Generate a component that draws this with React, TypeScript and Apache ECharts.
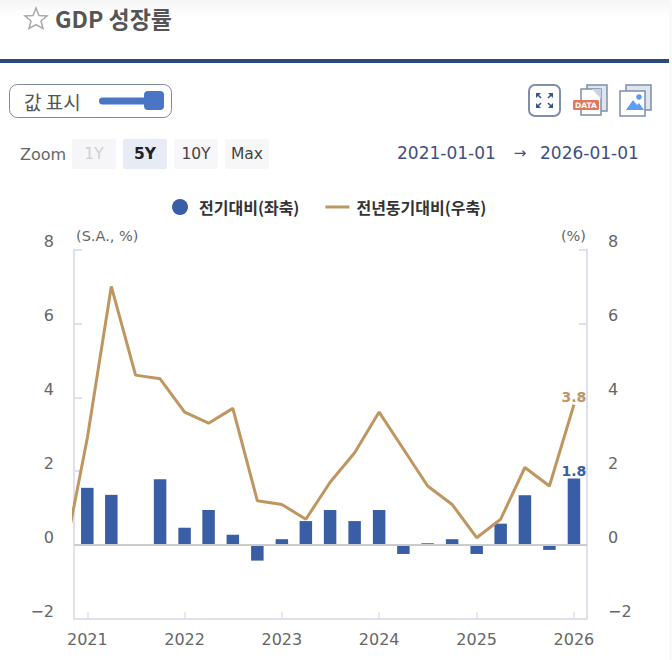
import React, { useEffect, useRef } from 'react'
import * as echarts from 'echarts'

const LATIN = '"DejaVu Sans", "Noto Sans CJK KR", sans-serif'
const KR = '"Noto Sans CJK KR", "DejaVu Sans", sans-serif'

const quarters = [
  '2020-10-01',
  '2021-01-01', '2021-04-01', '2021-07-01', '2021-10-01',
  '2022-01-01', '2022-04-01', '2022-07-01', '2022-10-01',
  '2023-01-01', '2023-04-01', '2023-07-01', '2023-10-01',
  '2024-01-01', '2024-04-01', '2024-07-01', '2024-10-01',
  '2025-01-01', '2025-04-01', '2025-07-01', '2025-10-01',
  '2026-01-01',
]
const qoqValues = [null, 1.55, 1.36, 0, 1.78, 0.47, 0.95, 0.28, -0.42, 0.16, 0.65, 0.95, 0.65, 0.95, -0.24, 0.05, 0.16, -0.24, 0.58, 1.35, -0.13, 1.8]
const yoyValues = [-0.5, 2.9, 7.0, 4.6, 4.5, 3.6, 3.3, 3.7, 1.2, 1.1, 0.7, 1.7, 2.5, 3.6, 2.6, 1.6, 1.1, 0.2, 0.7, 2.1, 1.6, 3.8]
const yearTicks = ['2021-01-01', '2022-01-01', '2023-01-01', '2024-01-01', '2025-01-01', '2026-01-01']
const zoomButtons = [
  { label: '1Y', x: 72, fill: '#f6f6f8', color: '#cfcfcf', weight: 'normal' },
  { label: '5Y', x: 123, fill: '#e7ebf5', color: '#222222', weight: 'bold' },
  { label: '10Y', x: 174, fill: '#f7f7f9', color: '#444444', weight: 'normal' },
  { label: 'Max', x: 225, fill: '#f7f7f9', color: '#444444', weight: 'normal' },
]

const ts = (s: string) => new Date(s + 'T00:00:00').getTime()
const DAY = 86400000
const lastIdx = quarters.length - 1

function headerGraphics(): any[] {
  const frame = '#7d8fa9'
  const navy = '#34568f'
  const els: any[] = [
    { type: 'rect', shape: { x: 0, y: 0, width: 672, height: 16 }, style: { fill: new echarts.graphic.LinearGradient(0, 0, 0, 1, [{ offset: 0, color: '#f4f4f4' }, { offset: 1, color: '#ffffff' }]) } },
    { type: 'rect', shape: { x: 669, y: 0, width: 3, height: 660 }, style: { fill: '#f8f9fb' } },
    { type: 'polygon', shape: { points: [[36, 8], [39, 15.5], [47, 16], [41, 21], [43, 28.5], [36, 24.5], [29, 28.5], [31, 21], [25, 16], [33, 15.5]] }, style: { fill: '#fff', stroke: '#a9a9a9', lineWidth: 1.5 } },
    { type: 'text', style: { x: 55, y: 18, text: 'GDP 성장률', font: `bold 23px ${KR}`, fill: '#555555', verticalAlign: 'middle' } },
    { type: 'rect', shape: { x: 0, y: 59, width: 669, height: 4 }, style: { fill: '#2c4a7c' } },
    // value toggle
    { type: 'rect', shape: { x: 9.5, y: 84.5, width: 162, height: 33, r: 8 }, style: { fill: '#fff', stroke: '#7c8aa0', lineWidth: 1 } },
    { type: 'text', style: { x: 24, y: 101, text: '값 표시', font: `19px ${KR}`, fill: '#555555', verticalAlign: 'middle' } },
    { type: 'rect', shape: { x: 99, y: 97.5, width: 50, height: 7, r: 3.5 }, style: { fill: '#4a74c4' } },
    { type: 'rect', shape: { x: 144, y: 91, width: 20, height: 19, r: 4 }, style: { fill: '#4a74c4' } },
    { type: 'text', style: { x: 20, y: 154, text: 'Zoom', font: `16px ${LATIN}`, fill: '#666666', verticalAlign: 'middle' } },
    // date range
    { type: 'text', style: { x: 397, y: 153, text: '2021-01-01', font: `17px ${LATIN}`, fill: '#3f4f85', verticalAlign: 'middle' } },
    { type: 'text', style: { x: 520, y: 153, text: '→', font: `15px ${LATIN}`, fill: '#3f4f85', align: 'center', verticalAlign: 'middle' } },
    { type: 'text', style: { x: 540, y: 153, text: '2026-01-01', font: `17px ${LATIN}`, fill: '#3f4f85', verticalAlign: 'middle' } },
    // fullscreen icon
    { type: 'rect', shape: { x: 529, y: 85, width: 31, height: 31, r: 6 }, style: { fill: '#fff', stroke: frame, lineWidth: 2 } },
    { type: 'line', shape: { x1: 538, y1: 95, x2: 541, y2: 98 }, style: { stroke: navy, lineWidth: 1.6 } },
    { type: 'polygon', shape: { points: [[536, 93], [541, 93], [536, 98]] }, style: { fill: navy } },
    { type: 'line', shape: { x1: 551, y1: 95, x2: 548, y2: 98 }, style: { stroke: navy, lineWidth: 1.6 } },
    { type: 'polygon', shape: { points: [[553, 93], [548, 93], [553, 98]] }, style: { fill: navy } },
    { type: 'line', shape: { x1: 538, y1: 106, x2: 541, y2: 103 }, style: { stroke: navy, lineWidth: 1.6 } },
    { type: 'polygon', shape: { points: [[536, 108], [541, 108], [536, 103]] }, style: { fill: navy } },
    { type: 'line', shape: { x1: 551, y1: 106, x2: 548, y2: 103 }, style: { stroke: navy, lineWidth: 1.6 } },
    { type: 'polygon', shape: { points: [[553, 108], [548, 108], [553, 103]] }, style: { fill: navy } },
    // data icon
    { type: 'rect', shape: { x: 587, y: 85, width: 20, height: 26 }, style: { fill: '#dfe5ee', stroke: frame, lineWidth: 1.5 } },
    { type: 'rect', shape: { x: 581, y: 89, width: 20, height: 26 }, style: { fill: '#fff', stroke: frame, lineWidth: 1.5 } },
    { type: 'polygon', shape: { points: [[592, 89], [601, 89], [601, 99]] }, style: { fill: '#c9d3e3' } },
    { type: 'rect', shape: { x: 573, y: 100, width: 26, height: 10, r: 1.5 }, style: { fill: '#e2775c' } },
    { type: 'text', style: { x: 586, y: 105, text: 'DATA', font: `bold 7.5px ${LATIN}`, fill: '#ffffff', align: 'center', verticalAlign: 'middle' } },
    // image icon
    { type: 'rect', shape: { x: 626, y: 85, width: 25, height: 25 }, style: { fill: '#dfe5ee', stroke: frame, lineWidth: 1.5 } },
    { type: 'rect', shape: { x: 620, y: 91, width: 25, height: 25 }, style: { fill: '#fff', stroke: frame, lineWidth: 1.5 } },
    { type: 'circle', shape: { cx: 639, cy: 97, r: 2.8 }, style: { fill: '#5b9ef0' } },
    { type: 'polygon', shape: { points: [[626, 110], [633, 100], [637, 105], [639, 103], [644, 110]] }, style: { fill: '#5b9ef0' } },
  ]
  zoomButtons.forEach((b) => {
    els.push({ type: 'rect', shape: { x: b.x, y: 139, width: 44, height: 30, r: 2 }, style: { fill: b.fill } })
    els.push({ type: 'text', style: { x: b.x + 22, y: 154, text: b.label, font: `${b.weight} 15.5px ${LATIN}`, fill: b.color, align: 'center', verticalAlign: 'middle' } })
  })
  return els
}

export default function App(): JSX.Element {
  const ref = useRef<HTMLDivElement>(null)

  useEffect(() => {
    if (!ref.current) return
    document.body.style.margin = '0'
    const chart = echarts.init(ref.current, undefined, { renderer: 'svg' })
    const axisColor = '#dde1ef'
    const yLabel = (v: number) => String(v).replace('-', '−')
    const yAxisBase = {
      type: 'value',
      min: -2,
      max: 8,
      interval: 2,
      splitLine: { show: false },
      axisLine: { show: true, lineStyle: { color: axisColor, width: 2 } },
      axisTick: { show: true, inside: true, length: 8, lineStyle: { color: axisColor, width: 2 } },
      nameGap: 6,
    }
    chart.setOption({
      animation: false,
      backgroundColor: '#ffffff',
      graphic: headerGraphics(),
      legend: {
        left: 167,
        top: 194,
        itemWidth: 24,
        itemHeight: 16,
        itemGap: 26,
        textStyle: { fontFamily: KR, fontWeight: 'bold', fontSize: 16, color: '#333333', padding: [0, 0, 0, 2] },
        data: [
          { name: '전기대비(좌축)', icon: 'circle' },
          { name: '전년동기대비(우축)', icon: 'path://M0 7H24V10H0Z' },
        ],
      },
      grid: { left: 74, top: 249.5, width: 513, height: 369.5 },
      xAxis: {
        // plain numeric axis over timestamps: only yearly ticks are wanted
        type: 'value',
        min: ts('2021-01-01') - 50 * DAY,
        max: ts('2026-01-01') + 49 * DAY,
        splitLine: { show: false },
        axisLine: { show: true, onZero: false, lineStyle: { color: axisColor, width: 2 } },
        axisTick: { show: true, inside: true, length: 7, lineStyle: { color: axisColor, width: 1.5 }, customValues: yearTicks.map(ts) },
        axisLabel: {
          margin: 12,
          fontFamily: LATIN,
          fontSize: 16,
          color: '#666666',
          hideOverlap: false,
          showMinLabel: true,
          showMaxLabel: true,
          customValues: yearTicks.map(ts),
          formatter: (v: number) => String(new Date(v).getFullYear()),
        },
      },
      yAxis: [
        {
          ...yAxisBase,
          position: 'left',
          name: '(S.A., %)',
          nameTextStyle: { fontFamily: LATIN, fontSize: 14.5, color: '#666666', align: 'left', padding: [0, 0, 0, 2] },
          axisLabel: { margin: 20, fontFamily: LATIN, fontSize: 16, lineHeight: 16, color: '#666666', verticalAlign: 'bottom', formatter: yLabel },
        },
        {
          ...yAxisBase,
          position: 'right',
          name: '(%)',
          nameTextStyle: { fontFamily: LATIN, fontSize: 14.5, color: '#666666', align: 'right', padding: [0, 1, 0, 0] },
          axisLabel: { margin: 21, fontFamily: LATIN, fontSize: 16, lineHeight: 16, color: '#666666', verticalAlign: 'bottom', formatter: yLabel },
        },
      ],
      series: [
        {
          name: '전기대비(좌축)',
          type: 'bar',
          yAxisIndex: 0,
          barWidth: 12.5,
          itemStyle: { color: '#3a5ea6' },
          data: quarters.map((q, i) => {
            const value = [ts(q), qoqValues[i]]
            return i === lastIdx
              ? { value, label: { show: true, position: 'top', distance: 1, formatter: String(qoqValues[i]), fontFamily: LATIN, fontSize: 14, color: '#3a5ea6', fontWeight: 'bold' } }
              : { value }
          }),
          markLine: {
            silent: true,
            symbol: 'none',
            label: { show: false },
            lineStyle: { color: '#cccccc', width: 2, type: 'solid' },
            data: [{ yAxis: 0 }],
          },
        },
        {
          name: '전년동기대비(우축)',
          type: 'line',
          yAxisIndex: 1,
          symbol: 'circle',
          symbolSize: 0,
          showSymbol: true,
          lineStyle: { color: '#c09660', width: 3 },
          itemStyle: { color: '#c09660' },
          data: quarters.map((q, i) => {
            const value = [ts(q), yoyValues[i]]
            return i === lastIdx
              ? { value, label: { show: true, position: 'top', distance: 1, formatter: String(yoyValues[i]), fontFamily: LATIN, fontSize: 14, color: '#c09660', fontWeight: 'bold' } }
              : { value }
          }),
        },
      ],
    })
    return () => { chart.dispose() }
  }, [])

  return <div ref={ref} style={{ width: 672, height: 660, overflow: 'hidden' }} />
}
